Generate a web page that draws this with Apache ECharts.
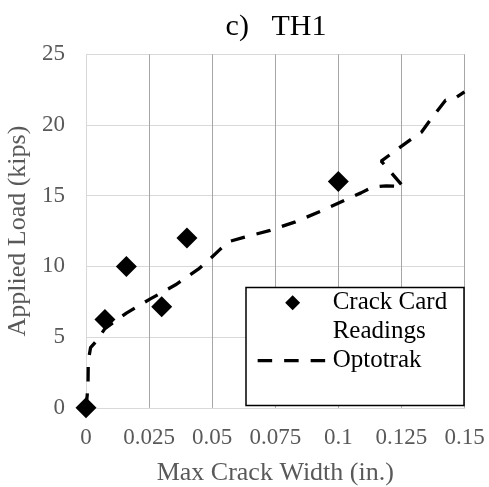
<!DOCTYPE html>
<html>
<head>
<meta charset="utf-8">
<script src="https://cdn.jsdelivr.net/npm/echarts@6/dist/echarts.min.js"></script>
<style>
html,body{margin:0;padding:0;background:#fff;}
#chart{width:489px;height:487px;}
</style>
</head>
<body>
<div id="chart"></div>
<script>
// ---- data ----
const titleText = 'c)   TH1';
const xAxisTitle = 'Max Crack Width (in.)';
const yAxisTitle = 'Applied Load (kips)';
const seriesNames = ['Crack Card Readings', 'Optotrak'];
const xTicks = [0, 0.025, 0.05, 0.075, 0.1, 0.125, 0.15];
const yTicks = [0, 5, 10, 15, 20, 25];

const crackCardX = [0, 0.0075, 0.016, 0.03, 0.04, 0.1];
const crackCardY = [0, 6.25, 10, 7.15, 12, 16];

const optotrakX = [0, 0.0008, 0.0009, 0.0018, 0.004, 0.0075, 0.016, 0.0255, 0.0355, 0.0445, 0.049, 0.0525, 0.0565, 0.0625, 0.073, 0.083, 0.093, 0.104, 0.109, 0.1135, 0.119, 0.1257, 0.117, 0.1285, 0.133, 0.136, 0.1425, 0.1455, 0.15];
const optotrakY = [0, 1.5, 3.3, 4.25, 4.7, 5.6, 6.7, 7.7, 8.7, 9.8, 10.5, 11.1, 11.75, 12.05, 12.55, 13.15, 13.9, 14.8, 15.2, 15.6, 15.7, 15.65, 17.45, 18.95, 19.5, 20.25, 21.75, 21.8, 22.35];

// ---- chart ----
const FONT = "'Liberation Serif', 'Times New Roman', serif";
const chart = echarts.init(document.getElementById('chart'), null, {renderer: 'canvas'});

const xSplitColors = xTicks.map((v, i) => i === 0 ? '#d9d9d9' : '#a6a6a6');
const dashLine = {color: '#000', width: 3.3, type: [14.5, 12], cap: 'butt'};
// diamond legend icon centred in a 70 x 15 box (invisible end points keep the box width)
const diamondIcon = 'path://M35,0L42.5,7.5L35,15L27.5,7.5Z M0,7.5L0.01,7.5Z M69.99,7.5L70,7.5Z';

const option = {
  animation: false,
  backgroundColor: '#fff',
  title: {
    text: titleText,
    left: 271,
    textAlign: 'center',
    top: 7,
    textStyle: {fontFamily: FONT, fontSize: 30, fontWeight: 'normal', color: '#000'}
  },
  grid: {left: 86, right: 24.5, top: 54.3, bottom: 79.2, containLabel: false, outerBoundsMode: 'none'},
  xAxis: {
    type: 'value',
    min: xTicks[0],
    max: xTicks[xTicks.length - 1],
    interval: 0.025,
    name: xAxisTitle,
    nameLocation: 'middle',
    nameGap: 52,
    nameTextStyle: {fontFamily: FONT, fontSize: 26, color: '#595959'},
    axisLine: {show: true, lineStyle: {color: '#d9d9d9', width: 1}},
    axisTick: {show: false},
    axisLabel: {
      margin: 19,
      fontFamily: FONT, fontSize: 23, color: '#595959',
      formatter: v => String(+(+v).toFixed(3))
    },
    splitLine: {show: true, lineStyle: {color: xSplitColors, width: 1}}
  },
  yAxis: {
    type: 'value',
    min: yTicks[0],
    max: yTicks[yTicks.length - 1],
    interval: 5,
    name: yAxisTitle,
    nameLocation: 'middle',
    nameGap: 55,
    nameTextStyle: {fontFamily: FONT, fontSize: 26, color: '#595959'},
    axisLine: {show: false},
    axisTick: {show: false},
    axisLabel: {margin: 21, fontFamily: FONT, fontSize: 23, color: '#595959'},
    splitLine: {show: true, lineStyle: {color: '#d9d9d9', width: 1}}
  },
  graphic: [{
    type: 'rect',
    z: 3,
    shape: {x: 246, y: 287.5, width: 218, height: 118},
    style: {fill: '#fff', stroke: '#000', lineWidth: 1.5}
  }],
  legend: {
    orient: 'vertical',
    left: 256,
    top: 259.2,
    padding: 0,
    itemGap: 0,
    itemWidth: 70,
    itemHeight: 15,
    z: 6,
    selectedMode: false,
    textStyle: {fontFamily: FONT, fontSize: 25, color: '#000', lineHeight: 29},
    formatter: name => name === seriesNames[0] ? '\nCrack Card\nReadings' : name,
    data: [
      {name: seriesNames[0], icon: diamondIcon, itemStyle: {color: '#000', opacity: 1, borderWidth: 0}},
      {name: seriesNames[1], itemStyle: {color: 'rgba(0,0,0,0)', borderWidth: 0, opacity: 0}, lineStyle: dashLine}
    ]
  },
  series: [
    {
      name: seriesNames[1],
      type: 'line',
      data: optotrakX.map((x, i) => [x, optotrakY[i]]),
      symbol: 'none',
      showSymbol: false,
      smooth: false,
      z: 2,
      lineStyle: dashLine,
      itemStyle: {color: '#000'}
    },
    {
      name: seriesNames[0],
      type: 'scatter',
      data: crackCardX.map((x, i) => [x, crackCardY[i]]),
      symbol: 'diamond',
      symbolSize: 21,
      z: 4,
      clip: false,
      itemStyle: {color: '#000', opacity: 1}
    }
  ]
};
chart.setOption(option);
</script>
</body>
</html>
